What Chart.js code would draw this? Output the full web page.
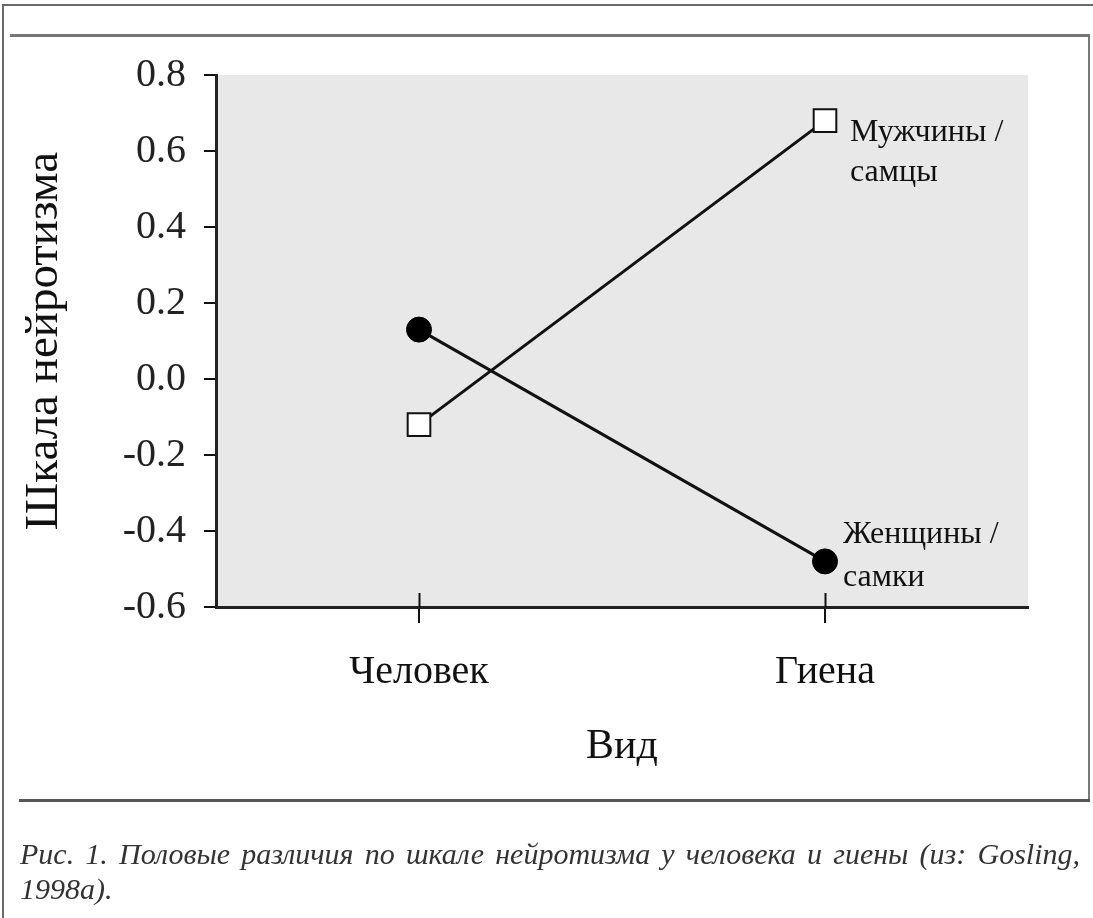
<!DOCTYPE html>
<html>
<head>
<meta charset="utf-8">
<script src="https://cdn.jsdelivr.net/npm/chart.js@4/dist/chart.umd.min.js"></script>
<style>
  html, body { margin: 0; padding: 0; background: #fff; }
  body { width: 1093px; height: 918px; position: relative; overflow: hidden; }
  .ln { position: absolute; background: #6a6a6a; }
  #chart { position: absolute; left: 0; top: 0; }
  #caption { position: absolute; left: 20px; top: 836px; width: 1060px;
    font-family: "Liberation Serif", "Times New Roman", serif; font-style: italic;
    font-size: 30px; line-height: 35px; color: #333; }
  #caption .l1 { display: block; text-align: justify; text-align-last: justify; }
  #caption .l2 { display: block; }
</style>
</head>
<body>
<div class="ln" style="left:2px;top:4px;width:2px;height:914px;"></div>
<div class="ln" style="left:2px;top:4px;width:1091px;height:2px;"></div>
<div class="ln" style="left:10px;top:34px;width:1080px;height:3px;background:#777;"></div>
<div class="ln" style="left:1088px;top:34px;width:2px;height:768px;background:#777;"></div>
<div class="ln" style="left:19px;top:799px;width:1071px;height:3px;background:#555;"></div>
<canvas id="chart" width="1093" height="918"></canvas>
<div id="caption"><span class="l1">Рис. 1. Половые различия по шкале нейротизма у человека и гиены (из: Gosling,</span><span class="l2">1998a).</span></div>
<script>
// ---- data ----
const categories = ['Человек', 'Гиена'];
const maleValues = [-0.12, 0.68];
const femaleValues = [0.13, -0.48];
const maleLabel = ['Мужчины /', 'самцы'];
const femaleLabel = ['Женщины /', 'самки'];
const yTicks = [-0.6, -0.4, -0.2, 0.0, 0.2, 0.4, 0.6, 0.8];
const xTitle = 'Вид';
const yTitle = 'Шкала нейротизма';

const SERIF = '"Liberation Serif", "Times New Roman", serif';

const bgPlugin = {
  id: 'bg',
  beforeDraw(chart) {
    const {ctx, chartArea: a} = chart;
    ctx.save();
    ctx.fillStyle = '#e8e8e8';
    ctx.fillRect(a.left, a.top, a.right - a.left, a.bottom - a.top);
    ctx.restore();
  }
};

const tickPlugin = {
  id: 'crossTicks',
  afterDraw(chart) {
    const {ctx, chartArea: a, scales} = chart;
    ctx.save();
    ctx.strokeStyle = '#111';
    ctx.lineWidth = 2;
    categories.forEach((c, i) => {
      const x = Math.round(scales.x.getPixelForValue(i)) + 0.5;
      ctx.beginPath();
      ctx.moveTo(x, a.bottom - 14);
      ctx.lineTo(x, a.bottom);
      ctx.stroke();
    });
    ctx.restore();
  }
};

const labelPlugin = {
  id: 'seriesLabels',
  afterDatasetsDraw(chart) {
    const {ctx, scales} = chart;
    ctx.save();
    ctx.fillStyle = '#111';
    ctx.font = '32px ' + SERIF;
    ctx.textBaseline = 'middle';
    ctx.textAlign = 'left';
    const last = categories.length - 1;
    const mx = scales.x.getPixelForValue(last), my = scales.y.getPixelForValue(maleValues[last]);
    ctx.fillText(maleLabel[0], mx + 25, my + 12);
    ctx.fillText(maleLabel[1], mx + 25, my + 52);
    const fx = scales.x.getPixelForValue(last), fy = scales.y.getPixelForValue(femaleValues[last]);
    ctx.fillText(femaleLabel[0], fx + 18, fy - 27);
    ctx.fillText(femaleLabel[1], fx + 18, fy + 16);
    ctx.restore();
  }
};

new Chart(document.getElementById('chart'), {
  type: 'line',
  data: {
    datasets: [
      {
        label: 'male',
        data: maleValues.map((v, i) => ({x: i, y: v})),
        borderColor: '#111', borderWidth: 3,
        pointStyle: 'rect', pointRadius: 16, pointHoverRadius: 16,
        pointBackgroundColor: '#fff', pointBorderColor: '#111', pointBorderWidth: 2
      },
      {
        label: 'female',
        data: femaleValues.map((v, i) => ({x: i, y: v})),
        borderColor: '#111', borderWidth: 3,
        pointStyle: 'circle', pointRadius: 12.5, pointHoverRadius: 12.5,
        pointBackgroundColor: '#000', pointBorderColor: '#000', pointBorderWidth: 1
      }
    ]
  },
  options: {
    responsive: false,
    animation: false,
    events: [],
    layout: { padding: { left: 0, top: 75, right: 65, bottom: 0 } },
    plugins: { legend: { display: false }, tooltip: { enabled: false } },
    scales: {
      x: {
        type: 'linear', min: -0.5, max: 1.5,
        afterBuildTicks(s) { s.ticks = categories.map((c, i) => ({value: i})); },
        afterFit(s) { s.height = 311; },
        grid: { drawOnChartArea: false, drawTicks: true, tickLength: 16, color: '#111', lineWidth: 2 },
        border: { display: true, color: '#222', width: 3 },
        ticks: {
          color: '#111', padding: 25,
          font: { family: SERIF, size: 40 },
          callback: (v) => categories[v] ?? ''
        },
        title: { display: true, text: xTitle, color: '#111',
          font: { family: SERIF, size: 42 }, padding: { top: 0, bottom: 146 } }
      },
      y: {
        min: -0.6, max: 0.8,
        afterBuildTicks(s) { s.ticks = yTicks.map(v => ({value: v})); },
        afterFit(s) { s.width = 216; },
        grid: { drawOnChartArea: false, drawTicks: true, tickLength: 12, color: '#111', lineWidth: 2 },
        border: { display: true, color: '#222', width: 3 },
        ticks: {
          color: '#222', padding: 18,
          font: { family: SERIF, size: 40 },
          callback: (v) => Number(v).toFixed(1)
        },
        title: { display: true, text: yTitle, color: '#111',
          font: { family: SERIF, size: 47 }, padding: { top: 16, bottom: 0 } }
      }
    }
  },
  plugins: [bgPlugin, tickPlugin, labelPlugin]
});
</script>
</body>
</html>
